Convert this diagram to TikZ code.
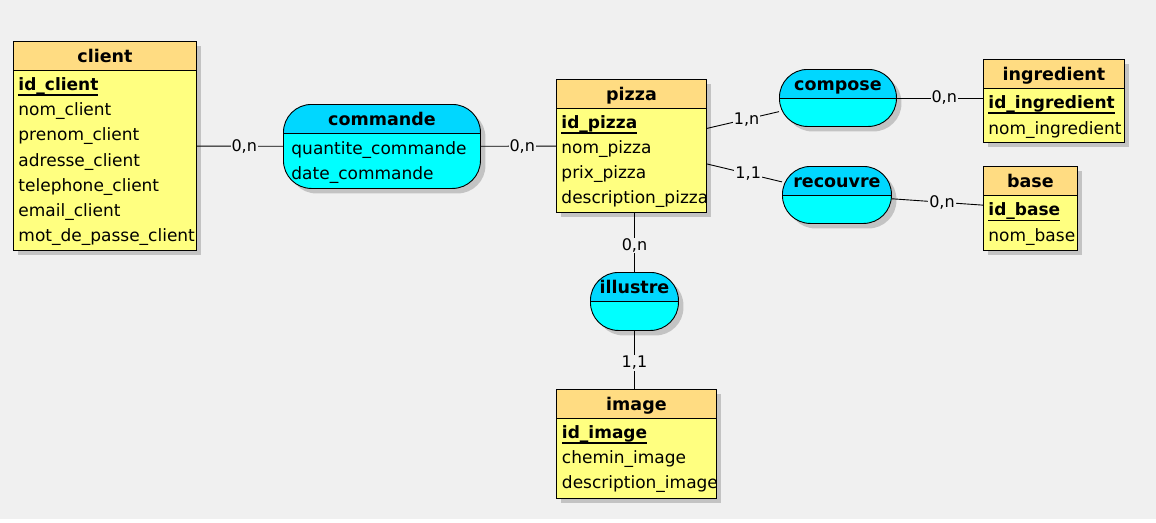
\documentclass[tikz,border=0pt]{standalone}
\usepackage{fontspec}
\setmainfont{DejaVu Sans}
\usetikzlibrary{shadows}
\definecolor{bgcolor}{RGB}{240,240,240}
\definecolor{headcolor}{RGB}{255,220,130}
\definecolor{bodycolor}{RGB}{255,255,128}
\definecolor{assohead}{RGB}{0,215,255}
\definecolor{assobody}{RGB}{0,255,255}
\definecolor{shadowcolor}{RGB}{195,195,195}
\newcommand{\idkey}[1]{\setbox0\hbox{\bfseries #1}\rlap{\rule[-5.5pt]{\wd0}{1.1pt}}\box0}

\begin{document}
\begin{tikzpicture}[x=1pt, y=-1pt, line width=0.9pt,
        txt/.style={font=\fontsize{17}{20}\selectfont, inner sep=0pt},
        attr/.style={txt, anchor=base west},
        title/.style={txt, font=\fontsize{17.5}{20}\selectfont\bfseries, anchor=base},
        card/.style={font=\fontsize{16}{19}\selectfont, fill=bgcolor, inner sep=1pt, pos=0.55},
        ombre/.style={drop shadow={shadow xshift=5pt, shadow yshift=-5pt, fill=shadowcolor, opacity=1}},
        entity/.style={draw, fill=bodycolor, ombre, anchor=north west, inner sep=0pt,
                path picture={
                        \fill[headcolor, sharp corners] (path picture bounding box.north west) rectangle ([yshift=-29pt]path picture bounding box.north east);
                        \draw[sharp corners] ([yshift=-29pt]path picture bounding box.north west) -- ([yshift=-29pt]path picture bounding box.north east);}},
        asso/.style={entity, fill=assobody, rounded corners=28pt,
                path picture={
                        \fill[assohead, sharp corners] (path picture bounding box.north west) rectangle ([yshift=-29pt]path picture bounding box.north east);
                        \draw[sharp corners] ([yshift=-29pt]path picture bounding box.north west) -- ([yshift=-29pt]path picture bounding box.north east);}},
        ]
        \useasboundingbox[fill=white] (0, 0) rectangle (1156, 522);
        \fill[bgcolor] (0, 0) rectangle (1156, 519);
        % Entities {{{
        \node[entity, minimum width=183pt, minimum height=209pt] (client) at (13, 41) {};
        \node[title] at ([yshift=-21.5pt]client.north) {client};
        \node[attr] at (18, 90) {\idkey{id\_client}};
        \node[attr] at (18, 115) {nom\_client};
        \node[attr] at (18, 140) {prenom\_client};
        \node[attr] at (18, 166) {adresse\_client};
        \node[attr] at (18, 191) {telephone\_client};
        \node[attr] at (18, 216) {email\_client};
        \node[attr] at (18, 241) {mot\_de\_passe\_client};

        \node[entity, minimum width=150pt, minimum height=133pt] (pizza) at (556, 79) {};
        \node[title] at ([yshift=-21.5pt]pizza.north) {pizza};
        \node[attr] at (561, 128) {\idkey{id\_pizza}};
        \node[attr] at (561, 153) {nom\_pizza};
        \node[attr] at (561, 178) {prix\_pizza};
        \node[attr] at (561, 203) {description\_pizza};

        \node[entity, minimum width=141pt, minimum height=83pt] (ingredient) at (983, 59) {};
        \node[title] at ([yshift=-21.5pt]ingredient.north) {ingredient};
        \node[attr] at (988, 108) {\idkey{id\_ingredient}};
        \node[attr] at (988, 134) {nom\_ingredient};

        \node[entity, minimum width=94pt, minimum height=84pt] (base) at (983, 166) {};
        \node[title] at ([yshift=-21.5pt]base.north) {base};
        \node[attr] at (988, 215.5) {\idkey{id\_base}};
        \node[attr] at (988, 241) {nom\_base};

        \node[entity, minimum width=160pt, minimum height=109pt] (image) at (556, 389) {};
        \node[title] at ([yshift=-21.5pt]image.north) {image};
        \node[attr] at (561.5, 438) {\idkey{id\_image}};
        \node[attr] at (561.5, 463) {chemin\_image};
        \node[attr] at (561.5, 488.5) {description\_image};
        % }}}
        % Associations {{{
        \node[asso, minimum width=197pt, minimum height=84pt] (commande) at (283, 104) {};
        \node[title] at ([yshift=-21.5pt]commande.north) {commande};
        \node[attr] at (291, 154) {quantite\_commande};
        \node[attr] at (291, 179) {date\_commande};

        \node[asso, minimum width=117pt, minimum height=57pt] (compose) at (779, 69) {};
        \node[title] at ([yshift=-21pt]compose.north) {compose};

        \node[asso, minimum width=109pt, minimum height=57pt] (recouvre) at (782, 166) {};
        \node[title] at ([yshift=-21pt]recouvre.north) {recouvre};

        \node[asso, minimum width=88pt, minimum height=58pt] (illustre) at (590, 272) {};
        \node[title] at ([yshift=-21pt]illustre.north) {illustre};
        % }}}
        % Links {{{
        \draw (client) -- node[card] {0,n} (commande);
        \draw (commande) -- node[card] {0,n} (pizza);
        \draw (pizza) -- node[card] {1,n} (compose);
        \draw (compose.east) -- node[card] {0,n} (compose.east -| ingredient.west);
        \draw (pizza) -- node[card] {1,1} (recouvre);
        \draw (recouvre) -- node[card] {0,n} (base);
        \draw (pizza.south -| illustre.north) -- node[card] {0,n} (illustre.north);
        \draw (illustre.south) -- node[card] {1,1} (illustre.south |- image.north);
        % }}}
\end{tikzpicture}
\end{document}
